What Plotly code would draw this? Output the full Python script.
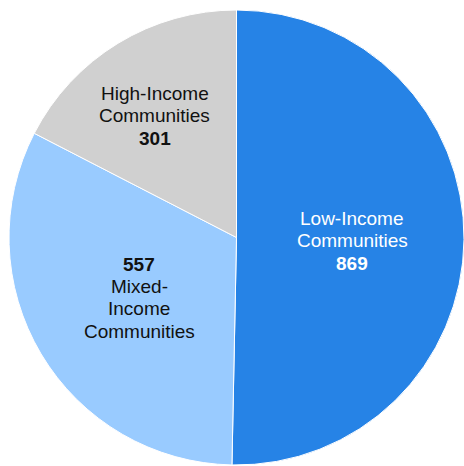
import plotly.graph_objects as go

# Community counts by income group
categories = ["Low-Income Communities", "Mixed-Income Communities", "High-Income Communities"]
counts = [869, 557, 301]
colors = ["#2683E6", "#99CBFF", "#D0D0D0"]

# Label lines per slice (the last line is the count, drawn bold)
label_lines = {
    "Low-Income Communities": ["Low-Income", "Communities"],
    "Mixed-Income Communities": ["Mixed-", "Income", "Communities"],
    "High-Income Communities": ["High-Income", "Communities"],
}

W, H = 464, 466

fig = go.Figure(
    go.Pie(
        labels=categories,
        values=counts,
        sort=False,
        direction="clockwise",
        rotation=0,
        marker=dict(colors=colors, line=dict(color="white", width=1)),
        textinfo="none",
        hoverinfo="label+value",
        showlegend=False,
        domain=dict(x=[9 / W, 1.0], y=[1 / H, 456 / H]),
    )
)


def add_line(text, px, py, color, bold=False):
    fig.add_annotation(
        x=px / W, y=1 - py / H, xref="paper", yref="paper",
        text=f"<b>{text}</b>" if bold else text,
        showarrow=False, xanchor="center", yanchor="middle",
        font=dict(family="Liberation Sans, Arial, sans-serif", size=19, color=color),
    )


values = dict(zip(categories, counts))

# Low-Income: words then count
cx, y0 = 352, 218
for i, t in enumerate(label_lines["Low-Income Communities"]):
    add_line(t, cx, y0 + i * 22.5, "white")
add_line(str(values["Low-Income Communities"]), cx, y0 + 2 * 22.5, "white", bold=True)

# High-Income: words then count
cx, y0 = 154.5, 93.3
for i, t in enumerate(label_lines["High-Income Communities"]):
    add_line(t, cx, y0 + i * 22.5, "#111111")
add_line(str(values["High-Income Communities"]), cx, y0 + 2 * 22.5, "#111111", bold=True)

# Mixed-Income: count first, then words
cx, y0 = 139, 264
add_line(str(values["Mixed-Income Communities"]), cx, y0, "#111111", bold=True)
for i, t in enumerate(label_lines["Mixed-Income Communities"]):
    add_line(t, cx, y0 + (i + 1) * 22.4, "#111111")

fig.update_layout(
    width=W, height=H, autosize=False,
    margin=dict(l=0, r=0, t=0, b=0),
    paper_bgcolor="white", plot_bgcolor="white",
)

fig.write_html("out.html")
